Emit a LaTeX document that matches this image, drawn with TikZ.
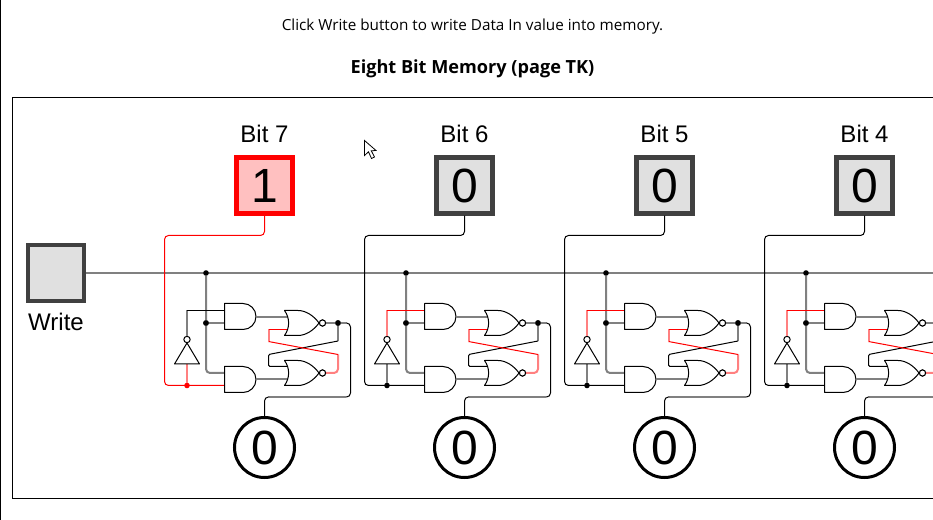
\documentclass[tikz,border=0pt]{standalone}
\usepackage{fontspec}
\setmainfont{Liberation Sans}
\newfontfamily\uifont{Open Sans}
\definecolor{btnedge}{HTML}{404040}
\definecolor{btnfill}{HTML}{E0E0E0}
\definecolor{onfill}{HTML}{FFC0C0}
\definecolor{softgray}{HTML}{808080}
\definecolor{softred}{HTML}{FF8080}
\tikzset{
  wire/.style={line width=0.75pt,rounded corners=3pt},
  softwire/.style={line width=1.5pt,rounded corners=3pt},
  latchwire/.style={line width=0.75pt,rounded corners=1pt},
  gateline/.style={line width=0.75pt,draw=black,fill=white,line join=round},
  bubble/.style={circle,draw=black,fill=white,line width=0.75pt,minimum size=4.6pt,inner sep=0pt,outer sep=0pt},
  dotnode/.style={circle,fill=#1,minimum size=4.2pt,inner sep=0pt,outer sep=0pt},
  dotnode/.default=black,
  btn/.style={rectangle,line width=3.3pt,minimum size=42pt,inner sep=0pt,outer sep=1.65pt,font=\fontsize{36pt}{36pt}\selectfont,text height=25.8pt,text depth=0pt},
  outcirc/.style={circle,draw=black,line width=2.25pt,minimum size=45pt,inner sep=0pt,outer sep=1.1pt,font=\fontsize{36pt}{36pt}\selectfont,text height=25.8pt,text depth=0pt},
  lbl/.style={anchor=base,font=\fontsize{18pt}{18pt}\selectfont,inner sep=0pt},
}
\begin{document}
\begin{tikzpicture}[x=0.75pt,y=-0.75pt]
\useasboundingbox (0,0) rectangle (933,520);
\clip (0,0) rectangle (933,520);
\fill[white] (0,0) rectangle (933,520);
\draw[line width=0.75pt] (0.5,0) -- (0.5,520);
\draw[line width=0.75pt] (950,97.5) -- (12.5,97.5) -- (12.5,498.5) -- (950,498.5);
\node[anchor=base,inner sep=0pt,font=\uifont\fontsize{11.45pt}{11.45pt}\selectfont] (hint) at (472.5,30.5) {Click Write button to write Data In value into memory.};
\node[anchor=base,inner sep=0pt,font=\uifont\bfseries\fontsize{13.6pt}{13.6pt}\selectfont] (title) at (472.5,74) {Eight Bit Memory (page TK)};
% cursor
\draw[line width=0.6pt,fill=white,line join=miter] (364.5,140.5) -- (364.5,155.5) -- (368.5,151.8) -- (371.5,158.5) -- (374.5,157) -- (371.3,150.8) -- (376,150.5) -- cycle;
% write button and bus
\node[btn,draw=btnedge,fill=btnfill] (write) at (56,273) {};
\node[lbl] (writelbl) at (56,330.5) {Write};
\coordinate (busend) at (933,273);
\draw[softwire,draw=softgray] (write.east) -- (busend);
\foreach \b/\o/\dcol/\icol/\dsoft/\isoft/\bedge/\bfill/\val in {
  7/0/red/black/softred/softgray/red/onfill/1,
  6/200/black/red/softgray/softred/btnedge/btnfill/0,
  5/400/black/red/softgray/softred/btnedge/btnfill/0,
  4/600/black/red/softgray/softred/btnedge/btnfill/0}{
\begin{scope}[shift={(\o,0)}]
  \node[lbl] (bl\b) at (264.5,142.5) {Bit \b};
  \node[btn,draw=\bedge,fill=\bfill] (in\b) at (264.5,185.5) {\val};
  \node[outcirc] (out\b) at (264.5,447.5) {0};
  % ports
  \coordinate (dtop\b) at (264.5,235.5);
  \coordinate (dleft\b) at (164.5,235.5);
  \coordinate (a1t\b) at (224.5,310.5);
  \coordinate (a1b\b) at (224.5,323);
  \coordinate (a1o\b) at (256,317);
  \coordinate (a2t\b) at (224.5,373);
  \coordinate (a2b\b) at (224.5,385.5);
  \coordinate (a2o\b) at (256,379);
  \coordinate (n1t\b) at (288,317);
  \coordinate (n1b\b) at (288,329.5);
  \coordinate (n2t\b) at (288,366.5);
  \coordinate (n2b\b) at (288,379);
  % control and data wires
  \draw[wire,draw=\dcol] (in\b.south) -- (dtop\b) -- (dleft\b) |- (a2b\b);
  \node[dotnode=black] (j1\b) at (206,273) {};
  \node[dotnode=black] (j2\b) at (206,323) {};
  \draw[softwire,draw=softgray] (j1\b) |- (a2t\b);
  \draw[softwire,draw=softgray] (j2\b) -- (a1b\b);
  \node[dotnode=black] at (j2\b) {};
  % inverter
  \coordinate (invbase\b) at (187,364);
  \coordinate (invtop\b) at (187,343);
  \coordinate (ic\b) at (187,310.5);
  \node[bubble,minimum size=4.8pt] (ib\b) at (187,339.5) {};
  \node[dotnode=\dcol] (j4\b) at (187,385.5) {};
  \draw[softwire,draw=\dsoft] (j4\b) -- (invbase\b);
  \draw[softwire,draw=\isoft,rounded corners=0pt] (ib\b) -- (ic\b);
  \draw[wire,draw=\icol,rounded corners=0pt] (ic\b) -- (a1t\b);
  \draw[gateline] (174.5,364) -- (invtop\b) -- (199.5,364) -- cycle;
  % AND gates
  \draw[gateline] (224.5,303.5) -- (243,303.5) .. controls (250.2,303.5) and (256,309.3) .. (256,316.5) .. controls (256,323.7) and (250.2,329.5) .. (243,329.5) -- (224.5,329.5) -- cycle;
  \draw[gateline] (224.5,366.5) -- (243,366.5) .. controls (250.2,366.5) and (256,372.3) .. (256,379.5) .. controls (256,386.7) and (250.2,392.5) .. (243,392.5) -- (224.5,392.5) -- cycle;
  % latch wiring
  \node[bubble] (nb1\b) at (322.5,323) {};
  \node[bubble] (nb2\b) at (322.5,373) {};
  \node[dotnode=black] (j3\b) at (338,323) {};
  \coordinate (xr1\b) at (268.5,329.5);
  \coordinate (xr2\b) at (268.5,341.5);
  \coordinate (xr3\b) at (338,354.5);
  \coordinate (xr4\b) at (338,373);
  \coordinate (xb1\b) at (338,341);
  \coordinate (xb2\b) at (268.5,354.5);
  \coordinate (xb3\b) at (268.5,366.5);
  \coordinate (oc0\b) at (346,323);
  \coordinate (oc1\b) at (350.5,323);
  \coordinate (oc2\b) at (350.5,397);
  \coordinate (oc3\b) at (346,397);
  \coordinate (oc4\b) at (269,397);
  \coordinate (oc5\b) at (264.5,397);
  \draw[softwire,draw=softgray] (a1o\b) -- (n1t\b);
  \draw[softwire,draw=softgray] (a2o\b) -- (n2b\b);
  \draw[softwire,draw=softgray] (j3\b) -- (xb1\b);
  \draw[latchwire] (xb1\b) -- (xb2\b) -- (xb3\b) -- (n2t\b);
  \draw[softwire,draw=softred] (xr1\b) -- (xr2\b);
  \draw[softwire,draw=softred] (xr3\b) -- (xr4\b) -- (nb2\b);
  \draw[latchwire,draw=red] (n1b\b) -- (xr1\b);
  \draw[latchwire,draw=red] (xr2\b) -- (xr3\b);
  \draw[softwire,draw=softgray] (nb1\b) -- (oc0\b);
  \node[dotnode=black] at (j3\b) {};
  \draw[wire] (oc0\b) -- (oc1\b) -- (oc2\b) -- (oc3\b);
  \draw[softwire,draw=softgray] (oc3\b) -- (oc4\b);
  \draw[wire] (oc4\b) -- (oc5\b) -- (out\b.north);
  % NOR gates
  \draw[gateline] (284.5,310.5) -- (298,310.5) .. controls (306,310.5) and (314,316) .. (319,323) .. controls (314,330) and (306,335.5) .. (298,335.5) -- (284.5,335.5) .. controls (290,328) and (290,318) .. (284.5,310.5) -- cycle;
  \draw[gateline] (284.5,360.5) -- (298,360.5) .. controls (306,360.5) and (314,366) .. (319,373) .. controls (314,380) and (306,385.5) .. (298,385.5) -- (284.5,385.5) .. controls (290,378) and (290,368) .. (284.5,360.5) -- cycle;
  \node[bubble] at (nb1\b) {};
  \node[bubble] at (nb2\b) {};
\end{scope}
}
\end{tikzpicture}
\end{document}
